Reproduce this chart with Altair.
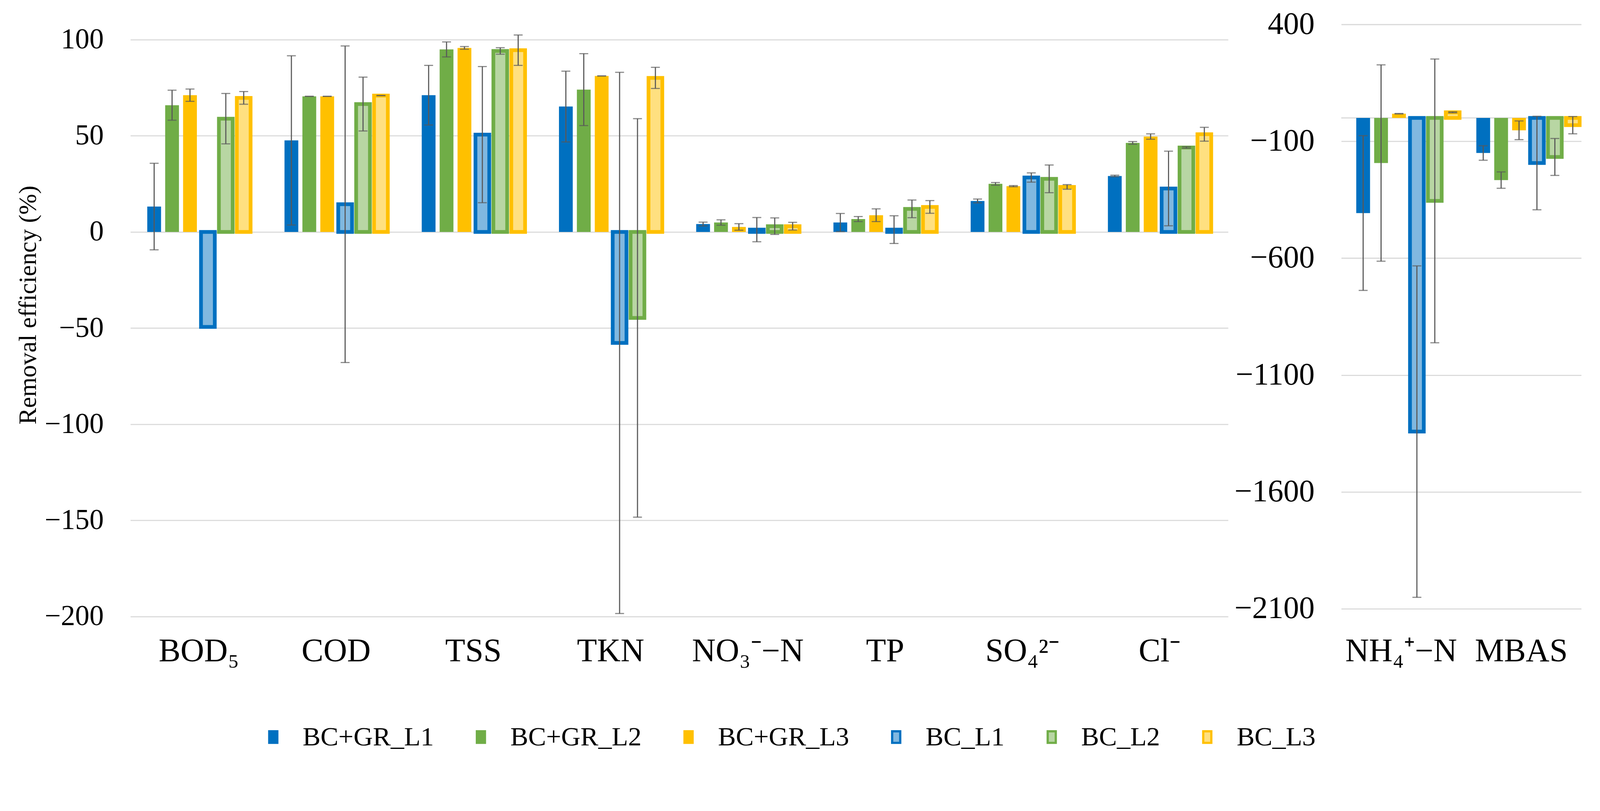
import altair as alt
import pandas as pd

FONT = "Liberation Serif"

series = ["BC+GR_L1", "BC+GR_L2", "BC+GR_L3", "BC_L1", "BC_L2", "BC_L3"]
solid_colors = ["#0070C0", "#70AD47", "#FFC000", "#0070C0", "#70AD47", "#FFC000"]
fill_colors = ["#0070C0", "#70AD47", "#FFC000", "#80B8E0", "#B8D6A3", "#FFE080"]

left_categories = ["BOD₅", "COD", "TSS", "TKN", "NO₃⁻−N", "TP", "SO₄²⁻", "Cl⁻"]
right_categories = ["NH₄⁺−N", "MBAS"]

# Left panel: removal efficiency (%) and error (+/-)
gr_l1_left = [13.2, 47.6, 71.1, 65.2, 4.1, 4.9, 16.1, 29.1]
gr_l1_left_err = [22.5, 44.0, 15.5, 18.4, 1.0, 4.7, 1.0, 0.4]
gr_l2_left = [65.9, 70.5, 94.9, 74.0, 4.9, 6.7, 25.0, 46.3]
gr_l2_left_err = [7.8, 0.0, 3.9, 18.7, 1.4, 1.3, 0.7, 0.7]
gr_l3_left = [71.1, 70.5, 95.7, 81.1, 2.6, 8.7, 23.8, 49.6]
gr_l3_left_err = [3.2, 0.0, 0.7, 0.0, 1.7, 3.3, 0.3, 1.4]
bc_l1_left = [-49.4, 14.4, 50.6, -57.7, 1.2, 1.2, 28.3, 22.6]
bc_l1_left_err = [None, 82.3, 35.4, 140.7, 6.3, 7.2, 2.4, 19.4]
bc_l2_left = [58.9, 66.5, 94.1, -44.7, 3.0, 12.0, 27.6, 43.9]
bc_l2_left_err = [13.1, 14.0, 1.7, 103.6, 4.3, 4.6, 7.2, 0.4]
bc_l3_left = [69.7, 70.9, 94.5, 80.1, 3.0, 13.0, 23.4, 50.8]
bc_l3_left_err = [3.3, 0.0, 7.9, 5.5, 2.0, 3.3, 1.2, 3.6]

# Right panel
gr_l1_right = [-407, -150]
gr_l1_right_err = [331, 31]
gr_l2_right = [-193, -266]
gr_l2_right_err = [420, 35]
gr_l3_right = [18, -53]
gr_l3_right_err = [1, 40]
bc_l1_right = [-1342, -193]
bc_l1_right_err = [709, 200]
bc_l2_right = [-355, -167]
bc_l2_right_err = [607, 79]
bc_l3_right = [24, -31]
bc_l3_right_err = [2, 37]

left_ticks = [-200, -150, -100, -50, 0, 50, 100]
right_ticks = [-2100, -1600, -1100, -600, -100, 400]


def build(cats, vals, errs):
    bar_rows, err_rows = [], []
    for s, vl, el in zip(series, vals, errs):
        for c, v, e in zip(cats, vl, el):
            bar_rows.append({"cat": c, "series": s, "value": v})
            if e is not None:
                err_rows.append({"cat": c, "series": s, "lo": v - e, "hi": v + e})
    return pd.DataFrame(bar_rows), pd.DataFrame(err_rows)


left_bars, left_errs = build(
    left_categories,
    [gr_l1_left, gr_l2_left, gr_l3_left, bc_l1_left, bc_l2_left, bc_l3_left],
    [gr_l1_left_err, gr_l2_left_err, gr_l3_left_err, bc_l1_left_err, bc_l2_left_err, bc_l3_left_err],
)
right_bars, right_errs = build(
    right_categories,
    [gr_l1_right, gr_l2_right, gr_l3_right, bc_l1_right, bc_l2_right, bc_l3_right],
    [gr_l1_right_err, gr_l2_right_err, gr_l3_right_err, bc_l1_right_err, bc_l2_right_err, bc_l3_right_err],
)

legend = alt.Legend(
    title=None,
    orient="none",
    legendX=348,
    legendY=1880,
    direction="horizontal",
    symbolType="M-0.35,-0.5H0.35V0.5H-0.35Z",
    symbolSize=3844,
    symbolStrokeWidth=6,
    labelFont=FONT,
    labelFontSize=72,
    labelColor="black",
    labelOffset=43,
    labelLimit=2000,
    columnPadding=90,
    padding=0,
)


def panel(cats, bars_df, err_df, domain, ticks, width, height, tick_size, y_title, zero_line):
    x = alt.X(
        "cat:N",
        sort=cats,
        scale=alt.Scale(domain=cats, paddingInner=0.217, paddingOuter=0.108),
        axis=alt.Axis(
            title=None, labelAngle=0, ticks=False, domain=False, grid=False,
            labelFont=FONT, labelFontSize=88, labelColor="black", labelPadding=50,
            labelLimit=0,
        ),
    )
    xo = alt.XOffset(
        "series:N", sort=series,
        scale=alt.Scale(domain=series, paddingInner=0.23, paddingOuter=0.115),
    )
    yscale = alt.Scale(domain=domain, nice=False, zero=False)
    axis_kw = dict(
        values=ticks, grid=True, gridColor="#D9D9D9", gridWidth=3, domain=False, ticks=False,
        labelFont=FONT, labelFontSize=tick_size, labelColor="black", labelPadding=72,
        labelLimit=0, format="d",
    )
    if y_title:
        axis_kw.update(title=y_title, titleFont=FONT, titleFontSize=67, titleFontWeight="normal",
                       titleColor="black", titlePadding=40, titleY=754)
    else:
        axis_kw.update(title=None)
    yaxis = alt.Axis(**axis_kw)

    layers = []
    if zero_line:
        layers.append(
            alt.Chart(pd.DataFrame({"z": [0]})).mark_rule(color="#D9D9D9", strokeWidth=3).encode(
                y=alt.Y("z:Q", scale=yscale, axis=yaxis)
            )
        )
    bars = alt.Chart(bars_df).mark_bar().encode(
        x=x,
        xOffset=xo,
        y=alt.Y("value:Q", scale=yscale, axis=yaxis),
        y2=alt.datum(0),
        fill=alt.Fill("series:N", scale=alt.Scale(domain=series, range=fill_colors), legend=legend),
        stroke=alt.Stroke("series:N", scale=alt.Scale(domain=series, range=solid_colors), legend=legend),
        strokeWidth=alt.condition("indexof(datum.series, 'GR') >= 0", alt.value(0), alt.value(10)),
    )
    layers.append(bars)
    rules = alt.Chart(err_df).mark_rule(color="#595959", strokeWidth=3).encode(
        x=x, xOffset=xo, y=alt.Y("lo:Q", scale=yscale, axis=yaxis), y2="hi:Q"
    )
    cap_lo = alt.Chart(err_df).mark_tick(color="#595959", thickness=3, size=24).encode(
        x=x, xOffset=xo, y=alt.Y("lo:Q", scale=yscale, axis=yaxis)
    )
    cap_hi = alt.Chart(err_df).mark_tick(color="#595959", thickness=3, size=24).encode(
        x=x, xOffset=xo, y=alt.Y("hi:Q", scale=yscale, axis=yaxis)
    )
    layers += [rules, cap_lo, cap_hi]
    return alt.layer(*layers).properties(width=width, height=height)


left = panel(left_categories, left_bars, left_errs, [-200, 107.9], left_ticks,
             2950, 1592, 77, "Removal efficiency (%)", False)
right = panel(right_categories, right_bars, right_errs, [-2133.4, 400], right_ticks,
              645, 1592, 84, None, True)

chart = (
    alt.hconcat(left, right, spacing=16)
    .resolve_scale(y="independent", x="independent")
    .configure_view(stroke=None)
    .properties(padding={"left": 34, "top": -34, "right": 40, "bottom": 20}, background="white")
)

chart.save("out.html", embed_options={"renderer": "svg", "actions": False})
